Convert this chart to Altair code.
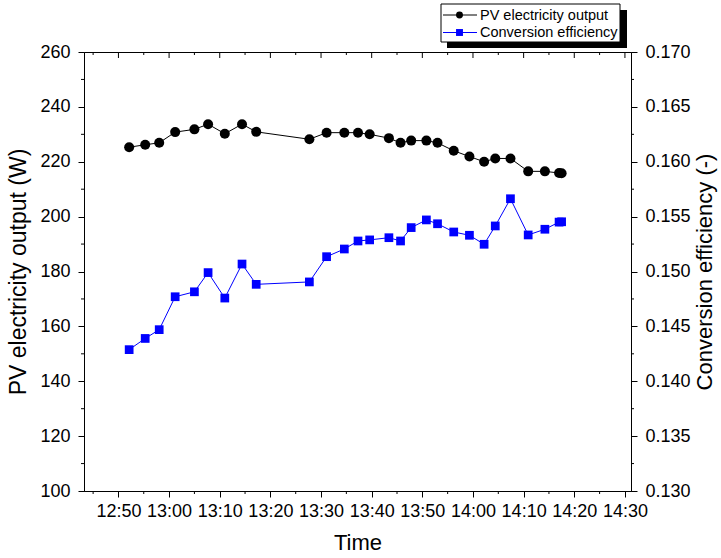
import altair as alt
import pandas as pd

# Measurement times and the two measured series
TIMES = [
    "12:52:07", "12:55:17", "12:58:03", "13:01:12", "13:05:00", "13:07:42",
    "13:11:00", "13:14:24", "13:17:12", "13:27:42", "13:31:06", "13:34:36",
    "13:37:18", "13:39:36", "13:43:24", "13:45:42", "13:47:48", "13:50:48",
    "13:53:00", "13:56:12", "13:59:18", "14:02:12", "14:04:24", "14:07:24",
    "14:10:54", "14:14:12", "14:17:00", "14:17:30",
]
PV_OUTPUT_W = [
    225.3, 226.2, 226.9, 230.8, 231.8, 233.7, 230.2, 233.7, 230.9, 228.2,
    230.6, 230.6, 230.6, 230.0, 228.6, 226.9, 227.7, 227.7, 226.9, 224.0,
    221.9, 220.0, 221.2, 221.2, 216.5, 216.5, 215.9, 215.8,
]
EFFICIENCY = [
    0.14288, 0.14390, 0.14470, 0.14770, 0.14815, 0.14990, 0.14758, 0.15068,
    0.14883, 0.14905, 0.15135, 0.15205, 0.15278, 0.15288, 0.15308, 0.15278,
    0.15400, 0.15470, 0.15435, 0.15360, 0.15330, 0.15248, 0.15415, 0.15663,
    0.15333, 0.15385, 0.15450, 0.15453,
]
SERIES = ["PV electricity output", "Conversion efficiency"]
COLORS = ["black", "#0000ff"]

# Axis ticks (time axis in minutes after 12:00)
X_DOMAIN = [43.2, 151.2]
X_MAJOR = [50, 60, 70, 80, 90, 100, 110, 120, 130, 140, 150]
X_MINOR = [45, 55, 65, 75, 85, 95, 105, 115, 125, 135, 145]
YL_DOMAIN = [100, 260]
YL_MAJOR = [100, 120, 140, 160, 180, 200, 220, 240, 260]
YL_MINOR = [110, 130, 150, 170, 190, 210, 230, 250]
YR_DOMAIN = [0.130, 0.170]
YR_MAJOR = [0.130, 0.135, 0.140, 0.145, 0.150, 0.155, 0.160, 0.165, 0.170]
YR_MINOR = [0.1325, 0.1375, 0.1425, 0.1475, 0.1525, 0.1575, 0.1625, 0.1675]

W, H = 547, 439
FONT = "Liberation Sans"


def minutes_after_noon(t):
    h, m, s = (int(p) for p in t.split(":"))
    return (h - 12) * 60 + m + s / 60.0


df = pd.DataFrame({
    "time": TIMES,
    "t": [minutes_after_noon(t) for t in TIMES],
    "pv": PV_OUTPUT_W,
    "eff": EFFICIENCY,
})

xscale = alt.Scale(domain=X_DOMAIN, nice=False, zero=False)
ylscale = alt.Scale(domain=YL_DOMAIN, nice=False, zero=False)
yrscale = alt.Scale(domain=YR_DOMAIN, nice=False, zero=False)

x_axis = alt.Axis(
    values=X_MAJOR, title="Time", tickSize=6, labelPadding=5, titlePadding=12,
    labelExpr="(12 + floor(datum.value / 60)) + ':' + "
              "(datum.value % 60 < 10 ? '0' : '') + (datum.value % 60)",
    labelFlush=False, labelOverlap=False,
)
yl_axis = alt.Axis(
    values=YL_MAJOR, title="PV electricity output (W)", orient="left",
    tickSize=6, labelPadding=8, titlePadding=9, titleFontSize=23,
)
yr_axis = alt.Axis(
    values=YR_MAJOR, title="Conversion efficiency (-)", orient="right",
    format=".3f", tickSize=6, labelPadding=8, titlePadding=4, titleFontSize=22,
    titleAngle=270, titleBaseline="top",
)

X = alt.X("t:Q", scale=xscale, axis=x_axis)
Y_PV = alt.Y("pv:Q", scale=ylscale, axis=yl_axis)
Y_EFF = alt.Y("eff:Q", scale=yrscale, axis=yr_axis)

base = alt.Chart(df)

pv_line = base.mark_line(color=COLORS[0], strokeWidth=1).encode(x=X, y=Y_PV)
pv_pts = base.mark_point(shape="circle", filled=True, size=100, color=COLORS[0], opacity=1).encode(x=X, y=Y_PV)

eff_line = base.mark_line(color=COLORS[1], strokeWidth=1).encode(x=X, y=Y_EFF)
eff_pts = base.mark_point(shape="square", filled=True, size=76, color=COLORS[1], opacity=1).encode(x=X, y=Y_EFF)


# Frame ticks: inward on top, minor ticks outward on the other sides
def x_ticks(values, y0, y1):
    return alt.Chart(pd.DataFrame({"t": values})).mark_rule(color="black", strokeWidth=1).encode(
        x=X, y=alt.value(y0), y2=alt.value(y1),
    )


top_major = x_ticks(X_MAJOR, 0, 6)
top_minor = x_ticks(X_MINOR, 0, 3)
bottom_minor = x_ticks(X_MINOR, H, H + 3)

left_minor = alt.Chart(pd.DataFrame({"pv": YL_MINOR})).mark_rule(color="black", strokeWidth=1).encode(
    y=Y_PV, x=alt.value(0), x2=alt.value(-3),
)
right_minor = alt.Chart(pd.DataFrame({"eff": YR_MINOR})).mark_rule(color="black", strokeWidth=1).encode(
    y=Y_EFF, x=alt.value(W), x2=alt.value(W + 3),
)

# Legend box with drop shadow above the plot
one = pd.DataFrame({"k": [0]})
legend_shadow = alt.Chart(one).mark_rect(color="black").encode(
    x=alt.value(363), x2=alt.value(543), y=alt.value(-42), y2=alt.value(-4),
)
legend_box = alt.Chart(one).mark_rect(fill="white", stroke="black", strokeWidth=1).encode(
    x=alt.value(357), x2=alt.value(536), y=alt.value(-48), y2=alt.value(-10),
)

legend_layers = [legend_shadow, legend_box]
for i, (name, col, shape) in enumerate(zip(SERIES, COLORS, ["circle", "square"])):
    ry = -37 + i * 17.5
    row = alt.Chart(pd.DataFrame({"label": [name]}))
    legend_layers.append(row.mark_rule(color=col, strokeWidth=1).encode(
        x=alt.value(359), x2=alt.value(393), y=alt.value(ry)))
    legend_layers.append(row.mark_point(shape=shape, filled=True, size=48, color=col, opacity=1).encode(
        x=alt.value(375.5), y=alt.value(ry)))
    legend_layers.append(row.mark_text(align="left", baseline="middle", font=FONT, fontSize=14.5,
                                       color="black").encode(
        x=alt.value(396), y=alt.value(ry + 0.5), text="label:N"))

left_group = alt.layer(pv_line, pv_pts, left_minor, top_major, top_minor, bottom_minor)
right_group = alt.layer(eff_line, eff_pts, right_minor, *legend_layers)

chart = alt.layer(left_group, right_group).resolve_scale(y="independent").properties(
    width=W, height=H,
    autosize=alt.AutoSizeParams(type="none"),
    padding={"left": 84, "top": 52, "right": 90, "bottom": 67},
    background="white",
).configure_view(
    stroke="black", strokeWidth=1,
).configure_axis(
    grid=False, domainColor="black", tickColor="black", labelColor="black",
    titleColor="black", labelFont=FONT, titleFont=FONT, labelFontSize=18,
    titleFontSize=22, titleFontWeight="normal", domainWidth=1, tickWidth=1,
)

chart.save("out.html", embed_options={"renderer": "svg", "actions": False})
